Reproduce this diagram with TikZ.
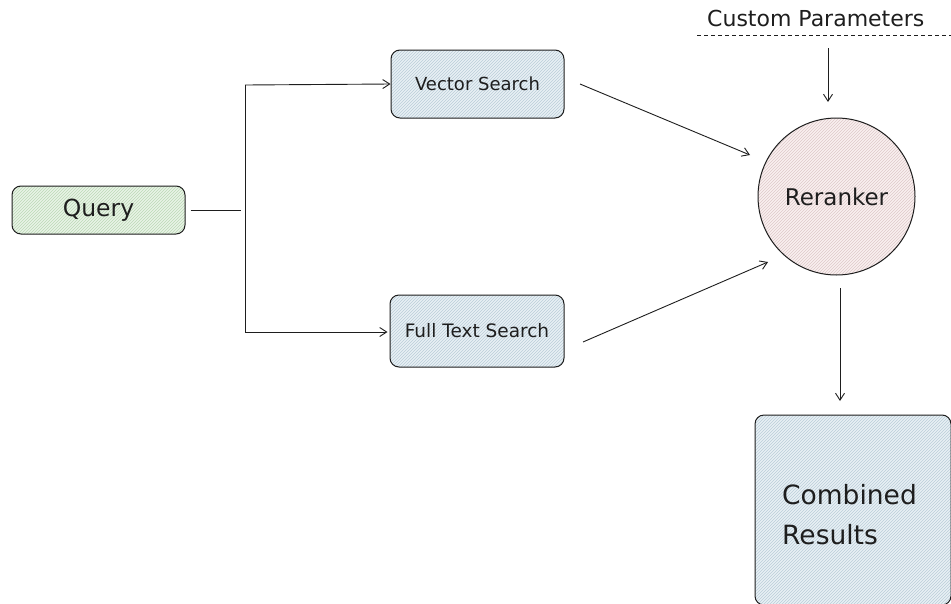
\documentclass[tikz,border=0pt]{standalone}
\usepackage{fontspec}
\setmainfont{DejaVu Sans}
\usetikzlibrary{patterns,arrows.meta}
\definecolor{qfill}{HTML}{E8F4E6}
\definecolor{qhatch}{HTML}{BCD9B6}
\definecolor{bfill}{HTML}{E8F0F5}
\definecolor{bhatch}{HTML}{BACDD8}
\definecolor{rfill}{HTML}{FAF0F0}
\definecolor{rhatch}{HTML}{DDC9C9}
\definecolor{ink}{HTML}{1E1E1E}
\tikzset{
  box/.style={draw=ink, line width=1pt, rounded corners=9pt, inner sep=0pt},
  qbox/.style={box, preaction={fill=qfill}, pattern=north east lines, pattern color=qhatch},
  bbox/.style={box, preaction={fill=bfill}, pattern=north east lines, pattern color=bhatch},
  rcirc/.style={draw=ink, line width=1pt, circle, inner sep=0pt, preaction={fill=rfill}, pattern=north east lines, pattern color=rhatch},
  conn/.style={draw=ink, line width=0.9pt},
  arr/.style={conn, -{Straight Barb[length=7pt,width=9pt]}},
  lbl/.style={text=ink, inner sep=0pt}
}
\begin{document}
\begin{tikzpicture}[x=1pt,y=-1pt]
\useasboundingbox (0,0) rectangle (951,603);
\fill[white] (0,0) rectangle (951,603);
% boxes
\node[qbox, minimum width=173pt, minimum height=48pt] (query) at (98.5,210) {};
\node[lbl, font=\fontsize{23.5}{25}\selectfont] at (query) {Query};
\node[bbox, minimum width=173pt, minimum height=68pt] (vec) at (477.5,84) {};
\node[lbl, font=\fontsize{18}{20}\selectfont] at (vec) {Vector Search};
\node[bbox, minimum width=174pt, minimum height=72pt] (fts) at (477,331) {};
\node[lbl, font=\fontsize{18.5}{20}\selectfont] at (fts) {Full Text Search};
\node[rcirc, minimum size=157pt] (rr) at (836.5,196.5) {};
\node[lbl, font=\fontsize{23}{25}\selectfont] at (rr) {Reranker};
\node[bbox, minimum width=196pt, minimum height=190pt] (comb) at (853,510) {};
\node[lbl, font=\fontsize{26.5}{40}\selectfont, align=left, anchor=west] at (782,515) {Combined\\Results};
% custom parameters
\node[lbl, font=\fontsize{22}{24}\selectfont, anchor=west] (cp) at (707,18) {Custom Parameters};
\coordinate (dl) at (697,35);
\coordinate (dr) at (951,35);
\draw[conn, dashed, dash pattern=on 4pt off 3pt, line width=0.8pt] (dl) -- (dr);
% connectors
\coordinate (j1) at (241,210);
\coordinate (vt) at (245,85);
\coordinate (vb) at (245,332);
\draw[conn] (query.east) ++(5,0) -- (j1);
\draw[conn] (vt) -- (vb);
\draw[arr] (vt) -- (vec.west);
\draw[arr] (vb) -- ([xshift=-2pt]fts.west |- vb);
\coordinate (v1) at (580,84);
\coordinate (r1) at (750,155);
\draw[arr] (v1) -- (r1);
\coordinate (f1) at (583,342);
\coordinate (r2) at (768,262);
\draw[arr] (f1) -- (r2);
\coordinate (c1) at (828,48);
\coordinate (c2) at (828,102);
\draw[arr] (c1) -- (c2);
\coordinate (rb) at (840,288);
\coordinate (cb) at (840,401);
\draw[arr] (rb) -- (cb);
\end{tikzpicture}
\end{document}
